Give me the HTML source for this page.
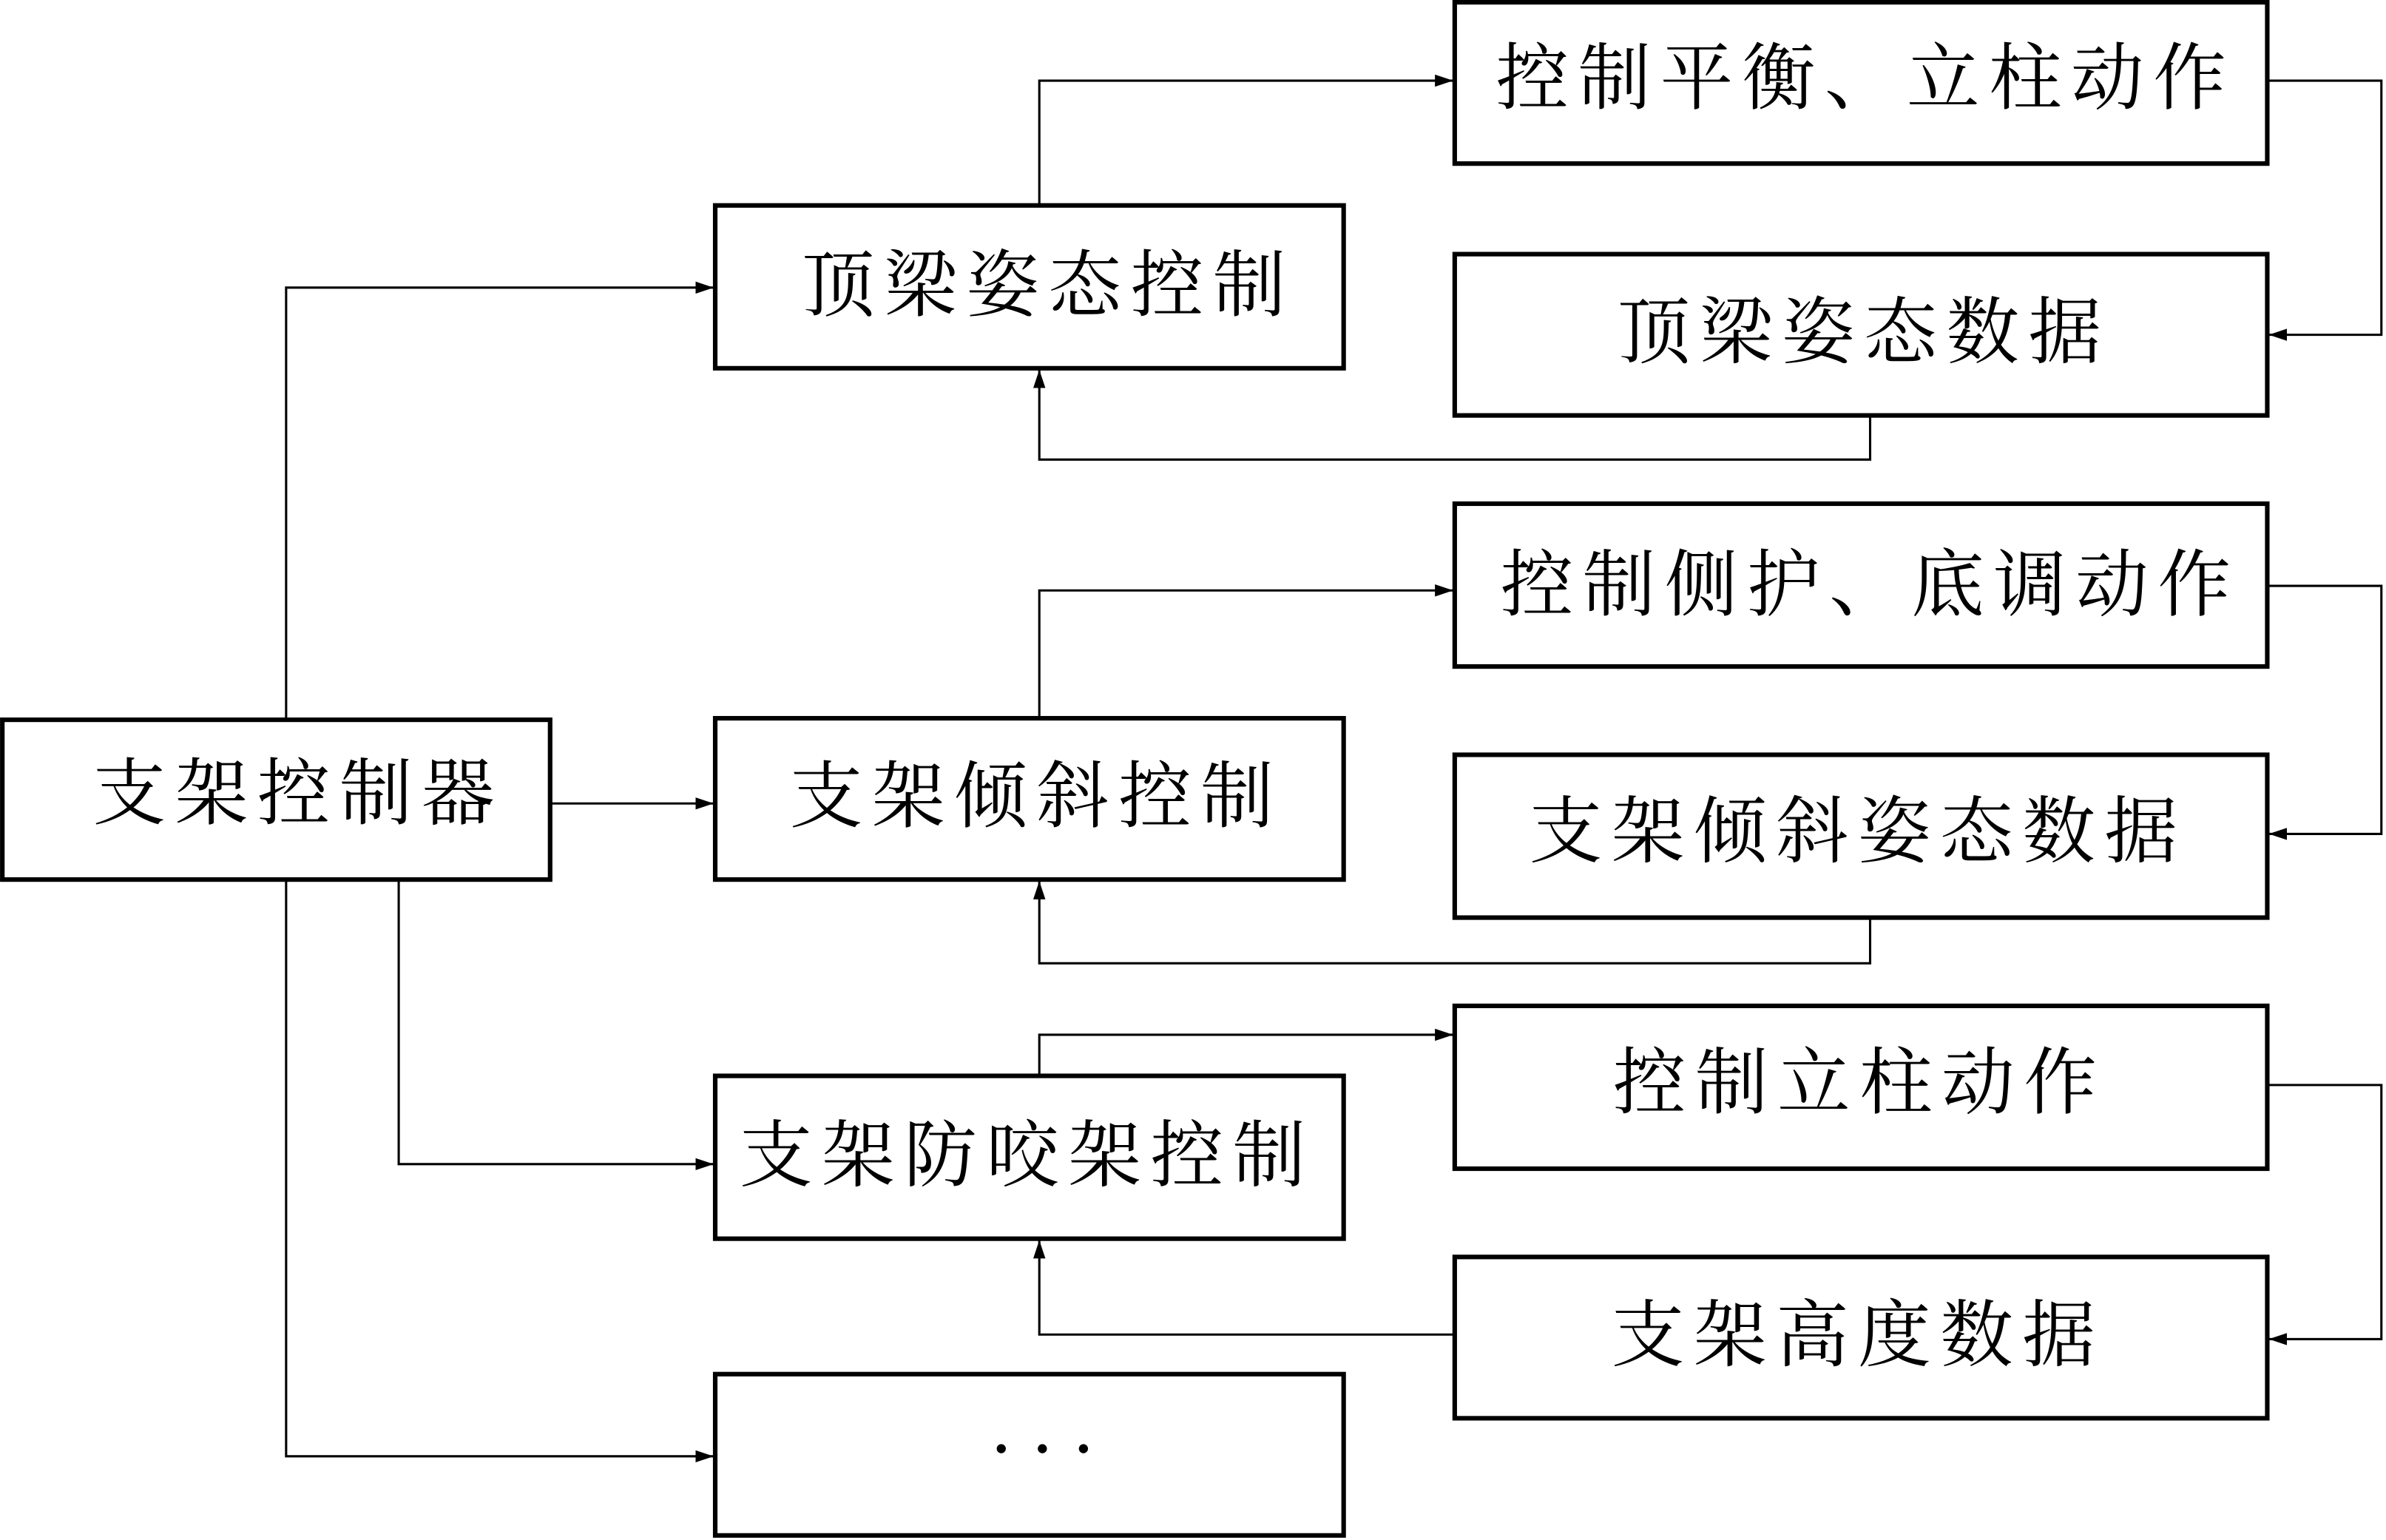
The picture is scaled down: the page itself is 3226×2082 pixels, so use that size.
<!DOCTYPE html>
<html><head><meta charset="utf-8"><style>
html,body{margin:0;padding:0;background:#fff;}
svg{display:block;}
text{font-family:"Liberation Serif","Noto Serif CJK SC",serif;font-size:48px;letter-spacing:6px;fill:#000;text-anchor:middle;dominant-baseline:central;}
</style></head><body>
<svg width="3226" height="2082" viewBox="0 0 1568 1012" xmlns="http://www.w3.org/2000/svg">
<defs><marker id="a" markerWidth="12" markerHeight="8" refX="12" refY="4" orient="auto" markerUnits="userSpaceOnUse"><path d="M0,0 L12,4 L0,8 z" fill="#000"/></marker></defs>
<g fill="none" stroke="#000" stroke-width="3">
<rect x="1.5" y="473" width="360" height="105"/>
<rect x="470" y="135" width="413" height="107"/>
<rect x="470" y="472" width="413" height="106"/>
<rect x="470" y="707" width="413" height="107"/>
<rect x="470" y="903" width="413" height="106"/>
<rect x="956" y="1.5" width="534" height="106"/>
<rect x="956" y="167" width="534" height="106"/>
<rect x="956" y="331" width="534" height="107"/>
<rect x="956" y="496" width="534" height="107"/>
<rect x="956" y="661" width="534" height="107"/>
<rect x="956" y="826" width="534" height="106"/>
</g>
<g fill="none" stroke="#000" stroke-width="1.5">
<polyline points="188,473 188,189 469,189" marker-end="url(#a)"/>
<polyline points="188,578 188,957 469,957" marker-end="url(#a)"/>
<polyline points="362,528 469,528" marker-end="url(#a)"/>
<polyline points="262,578 262,765 469,765" marker-end="url(#a)"/>
<polyline points="683,135 683,53 955,53" marker-end="url(#a)"/>
<polyline points="1490,53 1565,53 1565,220 1491,220" marker-end="url(#a)"/>
<polyline points="1229,273 1229,302 683,302 683,243" marker-end="url(#a)"/>
<polyline points="683,472 683,388 955,388" marker-end="url(#a)"/>
<polyline points="1490,385 1565,385 1565,548 1491,548" marker-end="url(#a)"/>
<polyline points="1229,603 1229,633 683,633 683,579" marker-end="url(#a)"/>
<polyline points="683,707 683,680 955,680" marker-end="url(#a)"/>
<polyline points="1490,713 1565,713 1565,880 1491,880" marker-end="url(#a)"/>
<polyline points="956,877 683,877 683,815" marker-end="url(#a)"/>
</g>
<g fill="#000"><circle cx="658" cy="952" r="3"/><circle cx="685" cy="952" r="3"/><circle cx="712" cy="952" r="3"/></g>
<text x="196" y="522">支架控制器</text>
<text x="689" y="188">顶梁姿态控制</text>
<text x="681" y="524">支架倾斜控制</text>
<text x="675" y="760">支架防咬架控制</text>
<text x="1226" y="52">控制平衡、立柱动作</text>
<text x="1225" y="219">顶梁姿态数据</text>
<text x="1229" y="385">控制侧护、底调动作</text>
<text x="1221" y="547">支架倾斜姿态数据</text>
<text x="1222" y="712">控制立柱动作</text>
<text x="1221" y="878">支架高度数据</text>
</svg>
</body></html>
